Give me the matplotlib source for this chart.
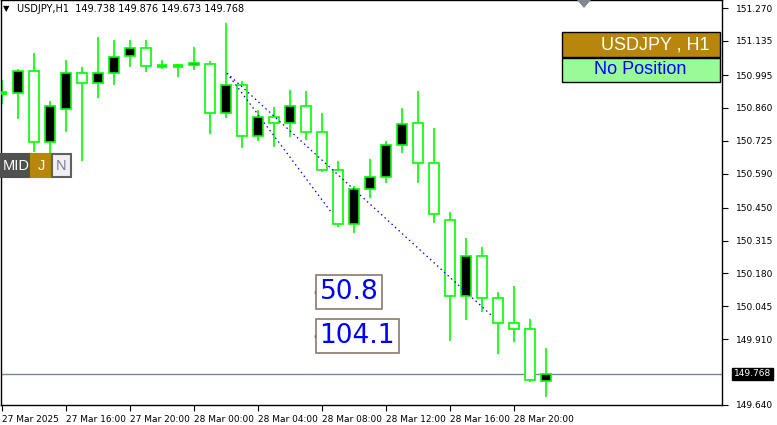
import matplotlib
matplotlib.use("Agg")
import matplotlib.pyplot as plt
from matplotlib.patches import Rectangle, Polygon

# H1 candles, 27 Mar 12:00 .. 28 Mar 22:00
opens = [150.921, 150.921, 151.011, 150.720, 150.855, 151.003, 150.962, 151.003, 151.073, 151.106,
         151.032, 151.032, 151.036, 151.040, 150.839, 150.954, 150.745, 150.823, 150.798, 150.868,
         150.761, 150.605, 150.383, 150.527, 150.576, 150.708, 150.798, 150.634, 150.400, 150.088,
         150.252, 150.080, 149.977, 149.952, 149.738]
highs = [150.974, 151.020, 151.085, 150.888, 151.057, 151.028, 151.151, 151.139, 151.139, 151.139,
         151.057, 151.040, 151.110, 151.052, 151.208, 150.970, 150.851, 150.864, 150.933, 150.929,
         150.839, 150.642, 150.539, 150.650, 150.724, 150.860, 150.929, 150.777, 150.433, 150.326,
         150.289, 150.104, 150.129, 149.993, 149.876]
lows = [150.876, 150.814, 150.679, 150.572, 150.761, 150.642, 150.901, 150.954, 151.028, 151.007,
        151.020, 150.987, 151.015, 150.753, 150.818, 150.695, 150.724, 150.699, 150.740, 150.728,
        150.597, 150.371, 150.346, 150.490, 150.552, 150.675, 150.552, 150.387, 149.903, 149.989,
        150.022, 149.850, 149.899, 149.735, 149.673]
closes = [150.921, 151.011, 150.720, 150.868, 151.003, 150.962, 151.003, 151.069, 151.106, 151.032,
          151.032, 151.030, 151.044, 150.839, 150.954, 150.745, 150.823, 150.798, 150.868, 150.761,
          150.605, 150.383, 150.527, 150.576, 150.708, 150.794, 150.634, 150.424, 150.088, 150.252,
          150.080, 149.977, 149.952, 149.743, 149.768]

time_labels = ["27 Mar 2025", "27 Mar 16:00", "27 Mar 20:00", "28 Mar 00:00", "28 Mar 04:00",
               "28 Mar 08:00", "28 Mar 12:00", "28 Mar 16:00", "28 Mar 20:00"]
price_ticks = [151.270, 151.135, 150.995, 150.860, 150.725, 150.590, 150.450, 150.315,
               150.180, 150.045, 149.910, 149.640]
last_price = 149.768

# measuring lines (bar index, price)
line_a = [(14.06, 151.003), (20.56, 150.433)]
line_b = [(14.06, 151.003), (30.69, 150.002)]
measures = [("50.8", 150.104), ("104.1", 149.924)]

W, H = 777, 425
fig = plt.figure(figsize=(W / 100, H / 100), dpi=100)
fig.patch.set_facecolor("white")


def fx(x):
    return x / W


def fy(y):
    return 1 - y / H


ax = fig.add_axes([fx(1), fy(405), 721 / W, 405 / H])
ax.set_facecolor("white")
ax.set_xlim(-0.0625, 45)
ax.set_ylim(149.640, 151.303)

green = "#00ff00"
n = len(opens)
for i in range(n):
    o, h, l, c = opens[i], highs[i], lows[i], closes[i]
    ax.vlines(i, l, h, color=green, lw=1.2, zorder=2)
    lo, hi = min(o, c), max(o, c)
    face = "black" if c > o else "white"
    if hi - lo < 0.004:
        ax.hlines((o + c) / 2, i - 0.33, i + 0.33, color=green, lw=2.6, zorder=3)
        if c > o:
            ax.hlines((o + c) / 2, i - 0.28, i + 0.28, color="black", lw=1.0, zorder=4)
    else:
        ax.add_patch(Rectangle((i - 0.31, lo), 0.62, hi - lo, facecolor=face,
                               edgecolor=green, lw=1.2, zorder=3))

for ln in (line_a, line_b):
    xs, ys = zip(*ln)
    ax.plot(xs, ys, color="blue", lw=0.9, ls=(0, (1.2, 2.6)), zorder=5)

for txt, p in measures:
    ax.plot(19.63, p, marker="s", ms=1.5, color="blue", zorder=6)
    ax.text(19.85, p, txt, fontsize=19, color="blue", va="center", ha="left", zorder=7,
            bbox=dict(boxstyle="square,pad=0.14", fc="white", ec="#8a7a6a", lw=1.2))

ax.axhline(last_price, color="#778899", lw=1, zorder=1)

ax.yaxis.tick_right()
ax.set_yticks(price_ticks)
ax.set_yticklabels(["%.3f" % p for p in price_ticks])
ax.set_xticks(range(0, 33, 4))
ax.set_xticklabels(time_labels, ha="left")
ax.tick_params(axis="y", length=4, width=0.8, pad=6, labelsize=6.5, colors="black")
ax.tick_params(axis="x", length=4, width=0.8, pad=3, labelsize=6.5, colors="black")
for s in ax.spines.values():
    s.set_linewidth(1)
    s.set_color("black")

ax.annotate("%.3f" % last_price, xy=(1, last_price), xycoords=("axes fraction", "data"),
            xytext=(12, 0), textcoords="offset pixels", va="center", ha="left",
            fontsize=6.5, color="white",
            bbox=dict(boxstyle="square,pad=0.2", fc="black", ec="black"),
            annotation_clip=False)

# header
fig.text(fx(3), fy(9), "\u25bc", fontsize=6, va="center", ha="left")
fig.text(fx(17), fy(9), "USDJPY,H1  149.738 149.876 149.673 149.768", fontsize=7,
         va="center", ha="left")

# shift marker
fig.add_artist(Polygon([(fx(577), fy(0)), (fx(591), fy(0)), (fx(584), fy(8))],
                       closed=True, fc="#808890", ec="none", transform=fig.transFigure))

# right top panel
fig.add_artist(Rectangle((fx(562), fy(57)), 158 / W, 25 / H, transform=fig.transFigure,
                         fc="#b8860b", ec="black", lw=1))
fig.text(fx(655), fy(45), "USDJPY , H1", fontsize=13, color="white", ha="center", va="center",
         family="Liberation Sans")
fig.add_artist(Rectangle((fx(562), fy(82)), 158 / W, 24 / H, transform=fig.transFigure,
                         fc="#98fb98", ec="black", lw=1))
fig.text(fx(640), fy(70), "No Position", fontsize=13, color="#0000ff", ha="center", va="center",
         family="Liberation Sans")

# buttons
buttons = [("MID", 1, 31, "#505050", "white"), ("J", 31, 52, "#b8860b", "white"),
           ("N", 52, 71, "#f0f0f0", "#7a7a9a")]
for label, x0, x1, fc, tc in buttons:
    fig.add_artist(Rectangle((fx(x0), fy(177)), (x1 - x0) / W, 23 / H, transform=fig.transFigure,
                             fc=fc, ec="#606060" if label == "N" else fc, lw=1.5))
    fig.text(fx((x0 + x1) / 2), fy(166), label, fontsize=10.5, color=tc, ha="center",
             va="center", family="Liberation Sans")

fig.savefig("out.png", dpi=100)
